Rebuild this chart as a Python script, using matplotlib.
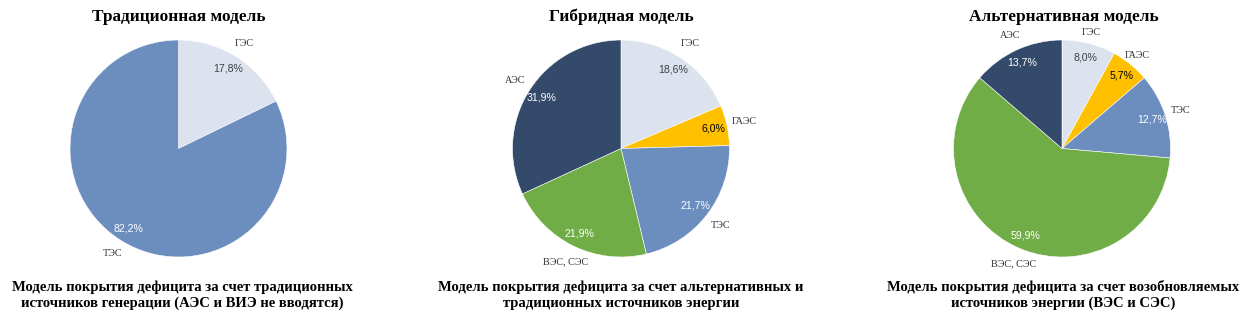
import matplotlib
matplotlib.use("Agg")
import matplotlib.pyplot as plt

# ---- data ----
titles = ["Традиционная модель", "Гибридная модель", "Альтернативная модель"]
captions = [
    "Модель покрытия дефицита за счет традиционных\nисточников генерации (АЭС и ВИЭ не вводятся)",
    "Модель покрытия дефицита за счет альтернативных и\nтрадиционных источников энергии",
    "Модель покрытия дефицита за счет возобновляемых\nисточников энергии (ВЭС и СЭС)",
]
labels_trad = ["ГЭС", "ТЭС"]
values_trad = [17.8, 82.2]
labels_hyb = ["ГЭС", "ГАЭС", "ТЭС", "ВЭС, СЭС", "АЭС"]
values_hyb = [18.6, 6.0, 21.7, 21.9, 31.9]
labels_alt = ["ГЭС", "ГАЭС", "ТЭС", "ВЭС, СЭС", "АЭС"]
values_alt = [8.0, 5.7, 12.7, 59.9, 13.7]

colors_map = {"ГЭС": "#DCE3EE", "ГАЭС": "#FFC000", "ТЭС": "#6C8EBF",
              "ВЭС, СЭС": "#70AD47", "АЭС": "#344A6B"}
pct_color = {"ГЭС": "#404040", "ГАЭС": "#000000", "ТЭС": "white",
             "ВЭС, СЭС": "white", "АЭС": "white"}

W, H = 1246, 313
fig = plt.figure(figsize=(W / 100, H / 100), dpi=100)

centers = [(178.5, 148.5), (621, 148.5), (1062, 148.5)]
radius_px = 108.5
title_x = [179, 621, 1064]
caption_x = [182, 621, 1063]
label_dist = [1.14, 1.16, 1.15]
datasets = [(labels_trad, values_trad), (labels_hyb, values_hyb), (labels_alt, values_alt)]

for i, (labs, vals) in enumerate(datasets):
    cx, cy = centers[i]
    ax = fig.add_axes([(cx - radius_px) / W, (H - cy - radius_px) / H,
                       2 * radius_px / W, 2 * radius_px / H])
    wedges, texts, autotexts = ax.pie(
        vals, labels=labs, colors=[colors_map[l] for l in labs],
        startangle=90, counterclock=False, radius=1,
        labeldistance=label_dist[i], pctdistance=0.87,
        autopct=lambda p: f"{p:.1f}%".replace(".", ","),
        wedgeprops=dict(linewidth=0.4, edgecolor="white"),
        textprops=dict(fontsize=7))
    for t, l in zip(texts, labs):
        t.set_ha("center")
        t.set_va("center")
        t.set_fontfamily("Liberation Serif")
        t.set_fontsize(7.3)
        t.set_color("#303030")
        if i == 2 and l in ("ГЭС", "ГАЭС"):
            x, y = t.get_position()
            t.set_position((x * 1.10 / 1.15, y * 1.10 / 1.15))
    for t, l in zip(autotexts, labs):
        t.set_fontfamily("Liberation Sans")
        t.set_fontsize(7.6)
        t.set_color(pct_color[l])
    ax.set_xlim(-1, 1)
    ax.set_ylim(-1, 1)
    ax.set_aspect("equal")
    ax.axis("off")

    fig.text(title_x[i] / W, 1 - 17 / H, titles[i], ha="center", va="center",
             fontfamily="Liberation Serif", fontweight="bold", fontsize=12.4)
    fig.text(caption_x[i] / W, 1 - 295 / H, captions[i], ha="center", va="center",
             fontfamily="Liberation Serif", fontweight="bold", fontsize=10.5,
             linespacing=1.25)

fig.savefig("out.png", dpi=100, facecolor="white")
